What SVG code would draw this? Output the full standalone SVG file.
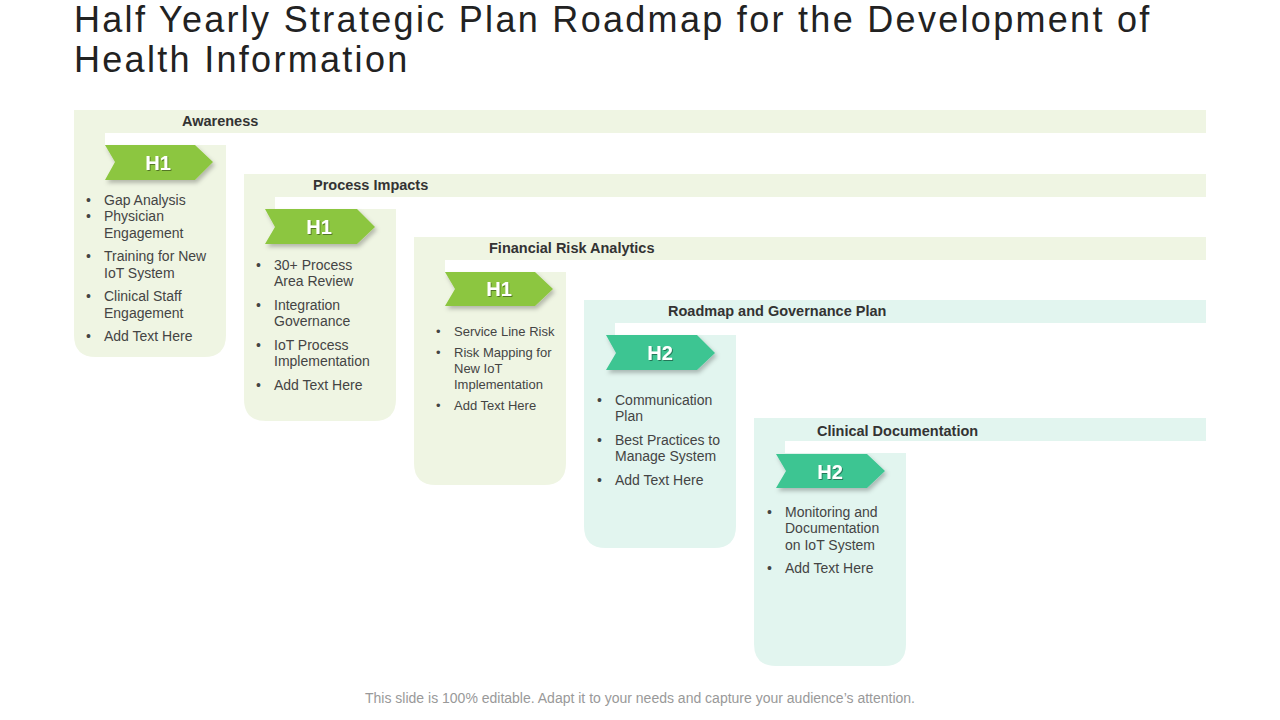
<svg xmlns="http://www.w3.org/2000/svg" width="1280" height="720" viewBox="0 0 1280 720">
<defs>
<filter id="sh" x="-10%" y="-20%" width="130%" height="160%"><feDropShadow dx="2" dy="3" stdDeviation="2" flood-color="#000" flood-opacity="0.25"/></filter>
<filter id="ts"><feDropShadow dx="1" dy="1" stdDeviation="0.6" flood-color="#000" flood-opacity="0.4"/></filter>
</defs>
<style>
.g{fill:#EFF5E3}.t{fill:#E2F5EF}
.cg{fill:#8CC63F}.ct{fill:#3DC592}
.hd{font-family:"Liberation Sans",Arial,sans-serif;font-weight:bold;font-size:14.5px;fill:#333}
.hl{font-family:"Liberation Sans",Arial,sans-serif;font-weight:bold;font-size:20px;fill:#fff;text-anchor:middle}
.b{font-family:"Liberation Sans",Arial,sans-serif;font-size:14px;fill:#444}
.bs{font-family:"Liberation Sans",Arial,sans-serif;font-size:13px;fill:#444}
</style>
<rect width="1280" height="720" fill="#fff"/>
<text font-family="'Century Gothic','Liberation Sans',sans-serif" font-size="36" fill="#222" letter-spacing="2.3"><tspan x="74" y="32">Half Yearly Strategic Plan Roadmap for the Development of</tspan><tspan x="74" y="72">Health Information</tspan></text>

<g id="step1">
<path class="g" d="M74,110H1206V133H105V145H226V335Q226,357 204,357H96Q74,357 74,335Z"/>
<text class="hd" x="182" y="126">Awareness</text>
<path class="cg" filter="url(#sh)" d="M105,145H195L213,162L195,180H105L115,162Z"/>
<text class="hl" x="158" y="170" filter="url(#ts)">H1</text>
<text class="b"><tspan x="86" y="205">•</tspan><tspan x="104" y="205">Gap Analysis</tspan><tspan x="86" y="221">•</tspan><tspan x="104" y="221">Physician</tspan><tspan x="104" y="238">Engagement</tspan><tspan x="86" y="261">•</tspan><tspan x="104" y="261">Training for New</tspan><tspan x="104" y="278">IoT System</tspan><tspan x="86" y="301">•</tspan><tspan x="104" y="301">Clinical Staff</tspan><tspan x="104" y="318">Engagement</tspan><tspan x="86" y="341">•</tspan><tspan x="104" y="341">Add Text Here</tspan></text>
</g>

<g id="step2">
<path class="g" d="M244,174H1206V197H275V209H396V399Q396,421 374,421H266Q244,421 244,399Z"/>
<text class="hd" x="313" y="190">Process Impacts</text>
<path class="cg" filter="url(#sh)" d="M265,209H357L375,227L357,244H265L275,227Z"/>
<text class="hl" x="319" y="234" filter="url(#ts)">H1</text>
<text class="b"><tspan x="256" y="270">•</tspan><tspan x="274" y="270">30+ Process</tspan><tspan x="274" y="286">Area Review</tspan><tspan x="256" y="310">•</tspan><tspan x="274" y="310">Integration</tspan><tspan x="274" y="326">Governance</tspan><tspan x="256" y="350">•</tspan><tspan x="274" y="350">IoT Process</tspan><tspan x="274" y="366">Implementation</tspan><tspan x="256" y="390">•</tspan><tspan x="274" y="390">Add Text Here</tspan></text>
</g>

<g id="step3">
<path class="g" d="M414,237H1206V260H445V272H566V463Q566,485 544,485H436Q414,485 414,463Z"/>
<text class="hd" x="489" y="253">Financial Risk Analytics</text>
<path class="cg" filter="url(#sh)" d="M445,272H535L553,289L535,306H445L455,289Z"/>
<text class="hl" x="499" y="296" filter="url(#ts)">H1</text>
<text class="bs"><tspan x="436" y="336">•</tspan><tspan x="454" y="336">Service Line Risk</tspan><tspan x="436" y="357">•</tspan><tspan x="454" y="357">Risk Mapping for</tspan><tspan x="454" y="373">New IoT</tspan><tspan x="454" y="389">Implementation</tspan><tspan x="436" y="410">•</tspan><tspan x="454" y="410">Add Text Here</tspan></text>
</g>

<g id="step4">
<path class="t" d="M584,300H1206V323H615V335H736V526Q736,548 714,548H606Q584,548 584,526Z"/>
<text class="hd" x="668" y="316">Roadmap and Governance Plan</text>
<path class="ct" filter="url(#sh)" d="M606,335H697L715,353L697,370H606L616,353Z"/>
<text class="hl" x="660" y="360" filter="url(#ts)">H2</text>
<text class="b"><tspan x="597" y="405">•</tspan><tspan x="615" y="405">Communication</tspan><tspan x="615" y="421">Plan</tspan><tspan x="597" y="445">•</tspan><tspan x="615" y="445">Best Practices to</tspan><tspan x="615" y="461">Manage System</tspan><tspan x="597" y="485">•</tspan><tspan x="615" y="485">Add Text Here</tspan></text>
</g>

<g id="step5">
<path class="t" d="M754,418H1206V441H785V453H906V644Q906,666 884,666H776Q754,666 754,644Z"/>
<text class="hd" x="817" y="436">Clinical Documentation</text>
<path class="ct" filter="url(#sh)" d="M776,454H867L885,471L867,488H776L786,471Z"/>
<text class="hl" x="830" y="479" filter="url(#ts)">H2</text>
<text class="b"><tspan x="767" y="517">•</tspan><tspan x="785" y="517">Monitoring and</tspan><tspan x="785" y="533">Documentation</tspan><tspan x="785" y="550">on IoT System</tspan><tspan x="767" y="573">•</tspan><tspan x="785" y="573">Add Text Here</tspan></text>
</g>

<g id="connectors"/>
<text x="640" y="703" text-anchor="middle" font-family="'Liberation Sans',Arial,sans-serif" font-size="14" fill="#999">This slide is 100% editable. Adapt it to your needs and capture your audience’s attention.</text>
</svg>
